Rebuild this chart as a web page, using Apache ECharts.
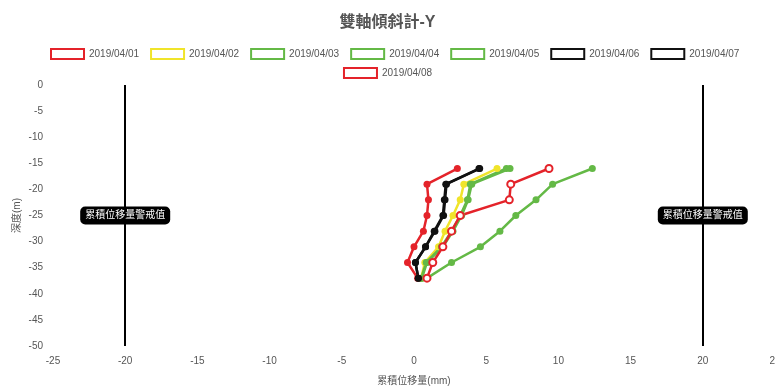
<!DOCTYPE html>
<html>
<head>
<meta charset="utf-8">
<script src="https://cdn.jsdelivr.net/npm/echarts@6/dist/echarts.min.js"></script>
<style>
html, body { margin: 0; padding: 0; background: #fff; }
#chart { width: 775px; height: 387px; }
</style>
</head>
<body>
<div id="chart"></div>
<script>
// Depth of each reading (m)
const depths = [-16, -19, -22, -25, -28, -31, -34, -37];

// Cumulative displacement per date (mm), top to bottom
const d0401 = [3.0, 0.9, 1.0, 0.9, 0.65, 0.0, -0.45, 0.25];
const d0402 = [5.75, 3.45, 3.2, 2.7, 2.15, 1.7, 0.75, 0.5];
const d0403 = [6.4, 3.9, 3.7, 3.2, 2.6, 1.9, 0.85, 0.5];
const d0404 = [6.65, 4.0, 3.75, 3.3, 2.7, 2.0, 0.9, 0.55];
const d0405 = [12.35, 9.6, 8.45, 7.05, 5.95, 4.6, 2.6, 0.9];
const d0406 = [4.5, 2.2, 2.1, 2.0, 1.4, 0.8, 0.1, 0.3];
const d0407 = [4.55, 2.25, 2.15, 2.05, 1.45, 0.8, 0.1, 0.3];
const d0408 = [9.35, 6.7, 6.6, 3.2, 2.6, 2.0, 1.3, 0.9];

const dates = ['2019/04/01', '2019/04/02', '2019/04/03', '2019/04/04',
               '2019/04/05', '2019/04/06', '2019/04/07', '2019/04/08'];
const values = [d0401, d0402, d0403, d0404, d0405, d0406, d0407, d0408];
const colors = ['#e4232a', '#f0e42a', '#64b946', '#64b946',
                '#64b946', '#111111', '#111111', '#e4232a'];

// Alarm threshold lines (mm) and where their tag sits (m)
const alarmLimits = [-20, 20];
const alarmTagDepth = -25;
const alarmText = '累積位移量警戒值';

const xTicks = { min: -25, max: 25, interval: 5 };
const yTicks = { min: -50, max: 0, interval: 5 };

const FONT = "'Liberation Sans', 'Noto Sans CJK TC', sans-serif";

const chart = echarts.init(document.getElementById('chart'));

const series = dates.map((name, i) => {
  const s = {
    name: name,
    type: 'line',
    data: values[i].map((v, k) => [v, depths[k]]),
    symbol: i === 7 ? 'emptyCircle' : 'circle',
    symbolSize: 7,
    lineStyle: { color: colors[i], width: 2.5 },
    itemStyle: { color: colors[i], borderColor: colors[i], borderWidth: i === 7 ? 2 : 0 },
    emphasis: { disabled: true },
    animation: false
  };
  if (i === 0) {
    s.markLine = {
      silent: true,
      symbol: ['none', 'none'],
      lineStyle: { color: '#000', width: 2, type: 'solid' },
      label: { show: false },
      data: alarmLimits.map(v => ({ xAxis: v }))
    };
    s.markPoint = {
      silent: true,
      symbol: 'rect',
      symbolSize: 0.01,
      label: {
        show: true,
        position: 'inside',
        formatter: alarmText,
        color: '#fff',
        backgroundColor: '#000',
        borderRadius: 5,
        padding: [4, 5],
        fontSize: 10,
        fontFamily: FONT
      },
      data: alarmLimits.map(v => ({ coord: [v, alarmTagDepth] }))
    };
  }
  return s;
});

const legendBase = {
  icon: 'rect',
  itemWidth: 33,
  itemHeight: 10,
  itemGap: 11,
  textStyle: { fontSize: 10, color: '#555', fontFamily: FONT }
};
const legendItem = i => ({
  name: dates[i],
  itemStyle: { color: '#fff', borderColor: colors[i], borderWidth: 2 }
});

chart.setOption({
  backgroundColor: '#fff',
  animation: false,
  title: {
    text: '雙軸傾斜計-Y',
    left: 'center',
    top: 10,
    textStyle: { fontSize: 16, fontWeight: 'bold', color: '#555', fontFamily: FONT }
  },
  legend: [
    Object.assign({}, legendBase, { left: 45, top: 43, data: [0, 1, 2, 3, 4, 5, 6].map(legendItem) }),
    Object.assign({}, legendBase, { left: 'center', top: 62, data: [7].map(legendItem) })
  ],
  grid: { left: 53, right: 0, top: 85, bottom: 41, outerBoundsMode: 'none', containLabel: false },
  xAxis: {
    type: 'value',
    min: xTicks.min, max: xTicks.max, interval: xTicks.interval,
    name: '累積位移量(mm)',
    nameLocation: 'middle',
    nameGap: 30,
    nameMoveOverlap: false,
    nameTextStyle: { fontSize: 10, color: '#555', fontFamily: FONT },
    axisLine: { show: false },
    axisTick: { show: false },
    splitLine: { show: false },
    axisLabel: { fontSize: 10, color: '#555', margin: 10, fontFamily: FONT }
  },
  yAxis: {
    type: 'value',
    min: yTicks.min, max: yTicks.max, interval: yTicks.interval,
    name: '深度(m)',
    nameLocation: 'middle',
    nameGap: 31,
    nameMoveOverlap: false,
    nameTextStyle: { fontSize: 10, color: '#555', fontFamily: FONT },
    axisLine: { show: false },
    axisTick: { show: false },
    splitLine: { show: false },
    axisLabel: { fontSize: 10, color: '#555', margin: 10, fontFamily: FONT }
  },
  series: series
});
</script>
</body>
</html>
